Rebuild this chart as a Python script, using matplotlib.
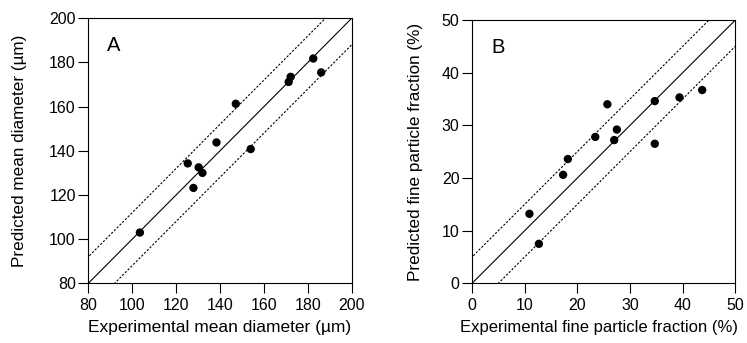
import numpy as np
import matplotlib
matplotlib.use('Agg')
import matplotlib.pyplot as plt

plt.rcParams['font.family'] = ['Liberation Sans', 'DejaVu Sans']

# ── Panel A: mean diameter (µm) ─────────────────────────────────────────────
a_exp  = [103.5, 125.3, 130.3, 132.0, 127.9, 138.4, 147.2, 154.0, 172.2, 171.3, 182.5, 186.1]
a_pred = [103.0, 134.3, 132.5, 130.0, 123.2, 143.8, 161.3, 140.8, 173.5, 171.2, 181.8, 175.5]
a_lim  = (80, 200)
a_band = 12
a_ticks = [80, 100, 120, 140, 160, 180, 200]

# ── Panel B: fine particle fraction (%) ─────────────────────────────────────
b_exp  = [10.9, 12.7, 17.3, 18.2, 23.4, 25.7, 27.0, 27.5, 34.7, 34.7, 39.4, 43.7]
b_pred = [13.2, 7.5, 20.6, 23.6, 27.8, 34.0, 27.2, 29.2, 34.6, 26.5, 35.3, 36.7]
b_lim  = (0, 50)
b_band = 5
b_ticks = [0, 10, 20, 30, 40, 50]

fig = plt.figure(figsize=(7.47, 3.43), dpi=100)
ax_a = fig.add_axes([0.1182, 0.174, 0.3526, 0.7726])
ax_b = fig.add_axes([0.6319, 0.174, 0.3525, 0.7677])


def draw_panel(ax, xs, ys, lim, band, ticks, letter, xlabel, ylabel,
               xl_size, xl_x, yl_x, letter_xy):
    lo, hi = lim
    line = np.array([lo - band, hi + band])
    ax.plot(line, line, color='black', lw=0.8)
    ax.plot(line, line + band, color='black', lw=0.8, ls=(0, (2, 1.5)))
    ax.plot(line, line - band, color='black', lw=0.8, ls=(0, (2, 1.5)))
    ax.scatter(xs, ys, s=36, color='black', zorder=3, edgecolors='none')
    ax.set_xlim(lo, hi)
    ax.set_ylim(lo, hi)
    ax.set_xticks(ticks)
    ax.set_yticks(ticks)
    ax.tick_params(direction='out', length=7.5, width=0.8, labelsize=11.5)
    ax.tick_params(axis='x', pad=3)
    ax.tick_params(axis='y', pad=1.5)
    for s in ax.spines.values():
        s.set_linewidth(0.8)
    ax.set_xlabel(xlabel, fontsize=xl_size)
    ax.set_ylabel(ylabel, fontsize=12.3)
    ax.xaxis.set_label_coords(xl_x, -0.138)
    ax.yaxis.set_label_coords(yl_x, 0.5)
    ax.text(letter_xy[0], letter_xy[1], letter, transform=ax.transAxes,
            fontsize=14.5, ha='left', va='top')


draw_panel(ax_a, a_exp, a_pred, a_lim, a_band, a_ticks, 'A',
           'Experimental mean diameter (µm)', 'Predicted mean diameter (µm)',
           12.5, 0.5, -0.233, (0.07, 0.935))
draw_panel(ax_b, b_exp, b_pred, b_lim, b_band, b_ticks, 'B',
           'Experimental fine particle fraction (%)',
           'Predicted fine particle fraction (%)',
           12.0, 0.482, -0.186, (0.074, 0.932))

fig.savefig('out.png', dpi=100)
